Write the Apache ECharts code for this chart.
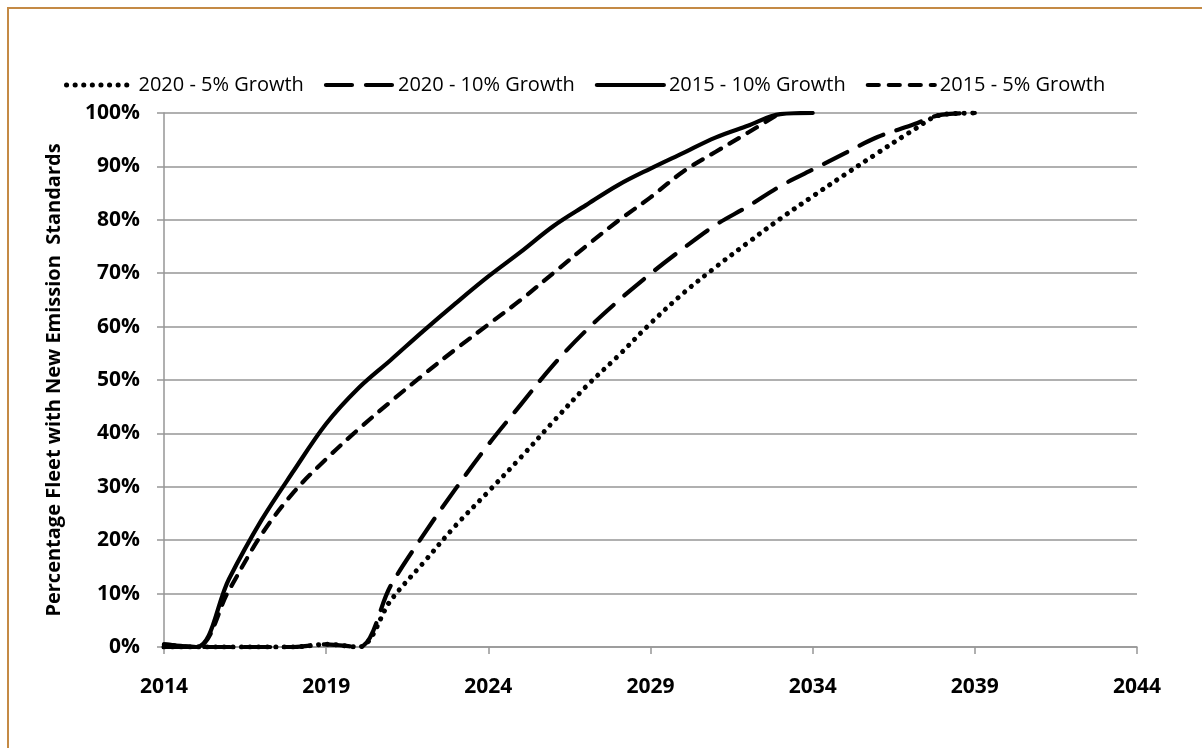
<!DOCTYPE html>
<html>
<head>
<meta charset="utf-8">
<script src="https://cdn.jsdelivr.net/npm/echarts@6/dist/echarts.min.js"></script>
<style>
  html, body { margin: 0; padding: 0; background: #fff; }
  #chart { width: 1202px; height: 748px; }
</style>
</head>
<body>
<div id="chart"></div>
<script>
// ---- Data ----
var years = [];
for (var y = 2014; y <= 2044; y++) years.push(String(y));

var yTickLabels = ['0%','10%','20%','30%','40%','50%','60%','70%','80%','90%','100%'];

var seriesNames = ['2020 - 5% Growth', '2020 - 10% Growth', '2015 - 10% Growth', '2015 - 5% Growth'];

// values by year starting 2014
var s2020_5  = [0, 0, 0, 0, 0, 0.5, 0, 8.8, 15.8, 22.8, 29.1, 35.5, 42.2, 48.7, 54.5, 60.6, 66.2, 71.1, 75.7, 80.2, 84.4, 88.5, 92.5, 96.4, 99.7, 100];
var s2020_10 = [0, 0, 0, 0, 0, 0.5, 0, 11.6, 21, 29.7, 37.9, 45.4, 52.8, 59.2, 64.8, 69.9, 74.6, 79, 82.5, 86.3, 89.4, 92.5, 95.5, 97.6, 99.7, 100];
var s2015_10 = [0.5, 0, 12.7, 23.7, 33, 41.8, 48.5, 53.8, 59.2, 64.4, 69.4, 74, 78.8, 82.7, 86.5, 89.6, 92.5, 95.4, 97.6, 99.8, 100];
var s2015_5  = [0.5, 0, 10.6, 21, 29, 35.2, 40.8, 46, 51, 55.8, 60.4, 65, 70, 75, 79.8, 84.2, 89, 92.7, 96.3, 100];

var chart = echarts.init(document.getElementById('chart'), null, { renderer: 'canvas' });

var FONT = '"Open Sans", "Noto Sans", sans-serif';
var GRID_COLOR = '#969696';

function mkSeries(name, data, dash, width) {
  return {
    name: name,
    type: 'line',
    data: data,
    symbol: 'none',
    smooth: 0.35,
    clip: true,
    lineStyle: {
      color: '#000',
      width: width,
      type: dash,
      cap: 'round',
      join: 'round'
    },
    itemStyle: { color: '#000' },
    emphasis: { disabled: true }
  };
}

var option = {
  animation: false,
  backgroundColor: '#fff',
  graphic: [{
    type: 'rect',
    silent: true,
    shape: { x: 8, y: 8, width: 1400, height: 1000 },
    style: { fill: 'none', stroke: '#C48A45', lineWidth: 2 }
  }],
  legend: {
    left: 59,
    top: 70,
    itemWidth: 67,
    itemHeight: 14,
    itemGap: 20,
    itemStyle: { opacity: 0 },
    lineStyle: { width: 'inherit', type: 'inherit', cap: 'inherit' },
    textStyle: { fontFamily: FONT, fontSize: 20, color: '#000' },
    data: seriesNames
  },
  grid: {
    left: 164,
    right: 65,
    top: 113,
    bottom: 101,
    containLabel: false
  },
  xAxis: {
    type: 'category',
    data: years,
    boundaryGap: false,
    axisLine: { lineStyle: { color: GRID_COLOR, width: 1.5 } },
    axisTick: { show: true, interval: 4, length: 7, inside: false, lineStyle: { color: GRID_COLOR, width: 1.5 } },
    axisLabel: {
      interval: 4,
      margin: 30,
      fontFamily: FONT,
      fontSize: 21,
      fontWeight: 'bold',
      color: '#000'
    },
    splitLine: { show: false }
  },
  yAxis: {
    type: 'value',
    min: 0,
    max: 100,
    interval: 10,
    name: 'Percentage Fleet with New Emission  Standards',
    nameLocation: 'middle',
    nameGap: 100,
    nameTextStyle: { fontFamily: FONT, fontSize: 20, fontWeight: 'bold', color: '#000' },
    axisLine: { show: true, lineStyle: { color: GRID_COLOR, width: 1.5 } },
    axisTick: { show: true, length: 7, lineStyle: { color: GRID_COLOR, width: 1.5 } },
    axisLabel: {
      margin: 24,
      fontFamily: FONT,
      fontSize: 21,
      fontWeight: 'bold',
      color: '#000',
      formatter: function (v) { return yTickLabels[Math.round(v / 10)]; }
    },
    splitLine: { show: true, lineStyle: { color: GRID_COLOR, width: 1.5 } }
  },
  series: [
    mkSeries(seriesNames[0], s2020_5, [0.1, 8.5], 5),
    mkSeries(seriesNames[1], s2020_10, [26, 14], 4.2),
    mkSeries(seriesNames[2], s2015_10, 'solid', 4.2),
    mkSeries(seriesNames[3], s2015_5, [11, 10], 4.2)
  ]
};

chart.setOption(option);
</script>
</body>
</html>
